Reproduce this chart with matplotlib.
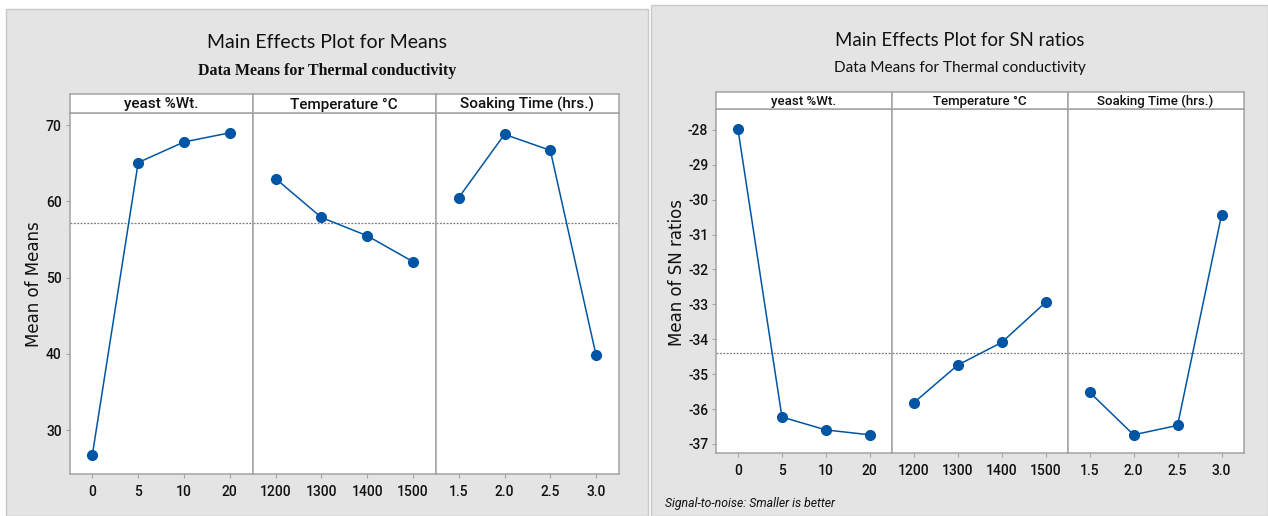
import matplotlib
matplotlib.use("Agg")
import matplotlib.pyplot as plt
from matplotlib.patches import Rectangle

# ---------------- data ----------------
factor_names = ["yeast %Wt.", "Temperature °C", "Soaking Time (hrs.)"]
yeast_levels = ["0", "5", "10", "20"]
temp_levels = ["1200", "1300", "1400", "1500"]
soak_levels = ["1.5", "2.0", "2.5", "3.0"]

means_yeast = [26.8, 65.1, 67.8, 69.0]
means_temp = [63.0, 57.9, 55.5, 52.1]
means_soak = [60.5, 68.8, 66.7, 39.8]
means_grand = 57.2
means_yticks = [30, 40, 50, 60, 70]

sn_yeast = [-27.98, -36.23, -36.60, -36.74]
sn_temp = [-35.82, -34.74, -34.09, -32.94]
sn_soak = [-35.52, -36.74, -36.47, -30.44]
sn_grand = -34.38
sn_yticks = [-37, -36, -35, -34, -33, -32, -31, -30, -29, -28]

W, H = 1268, 516
fig = plt.figure(figsize=(W / 100, H / 100), dpi=100)
fig.patch.set_facecolor("white")

NARROW = ["Roboto", "DejaVu Sans"]
TITLE = ["Lato", "DejaVu Sans"]

BLUE = "#0055a5"
FRAME = "#a3a3a3"
BG = "#e4e4e4"


def fbox(x0, y0, x1, y1):
    return [x0 / W, 1 - y1 / H, (x1 - x0) / W, (y1 - y0) / H]


# gray panels (behind axes)
for (px0, py0, px1) in [(6, 9, 648), (651, 5, 1268)]:
    r = Rectangle((px0 / W, 0), (px1 - px0) / W, (516 - py0) / H, transform=fig.transFigure,
                  facecolor=BG, edgecolor="#c8c8c8", lw=1.0, zorder=-10)
    fig.patches.append(r)


def panel(x0, x1, ytop, ybot, ystrip, ylim, yticks, series_levels, series_vals, grand,
          strip_fs, tick_fs):
    wf = (x1 - x0) / 3
    for i in range(3):
        ax = fig.add_axes(fbox(x0 + i * wf, ytop, x0 + (i + 1) * wf, ybot))
        ax.set_facecolor("white")
        xs = list(range(1, len(series_levels[i]) + 1))
        ax.plot(xs, series_vals[i], color=BLUE, lw=1.1, marker="o", ms=7,
                mfc=BLUE, mec=BLUE, zorder=3)
        ax.axhline(grand, color="#7a7a7a", lw=0.9, ls=(0, (1.5, 1.2)), zorder=2)
        ax.set_xlim(0.5, len(xs) + 0.5)
        ax.set_ylim(*ylim)
        ax.set_xticks(xs)
        ax.set_xticklabels(series_levels[i], fontsize=tick_fs, family=NARROW,
                           weight="medium", color="#111111")
        if i == 0:
            ax.set_yticks(yticks)
            ax.set_yticklabels([str(t) for t in yticks], fontsize=tick_fs, family=NARROW,
                               weight="medium", color="#111111")
        else:
            ax.set_yticks([])
        ax.tick_params(axis="x", length=3, width=0.8, color=FRAME, pad=5)
        ax.tick_params(axis="y", length=3, width=0.8, color=FRAME, pad=2.5)
        for s in ax.spines.values():
            s.set_color(FRAME)
            s.set_linewidth(1.1)
        # strip
        sx = fig.add_axes(fbox(x0 + i * wf, ystrip, x0 + (i + 1) * wf, ytop))
        sx.set_facecolor("white")
        sx.set_xticks([])
        sx.set_yticks([])
        for s in sx.spines.values():
            s.set_color(FRAME)
            s.set_linewidth(1.1)
        sx.text(0.5, 0.45, factor_names[i], ha="center", va="center", fontsize=strip_fs,
                family=NARROW, weight="medium", color="#111111", transform=sx.transAxes)


panel(69.5, 619, 113, 474, 94, (24.25, 71.6), means_yticks,
      [yeast_levels, temp_levels, soak_levels], [means_yeast, means_temp, means_soak],
      means_grand, 11, 10)

panel(716, 1243.5, 108.7, 453.3, 92, (-37.27, -27.39), sn_yticks,
      [yeast_levels, temp_levels, soak_levels], [sn_yeast, sn_temp, sn_soak],
      sn_grand, 9.5, 10)

# titles
fig.text(327 / W, 1 - 43 / H, "Main Effects Plot for Means", ha="center", va="center",
         fontsize=14, family=TITLE, color="#111111")
fig.text(327 / W, 1 - 71 / H, "Data Means for Thermal conductivity", ha="center", va="center",
         fontsize=11.5, family=["Liberation Serif", "DejaVu Serif"], weight="bold", color="#111111")
fig.text(960 / W, 1 - 40 / H, "Main Effects Plot for SN ratios", ha="center", va="center",
         fontsize=13.4, family=TITLE, color="#111111")
fig.text(960 / W, 1 - 67.7 / H, "Data Means for Thermal conductivity", ha="center", va="center",
         fontsize=11.1, family=TITLE, color="#111111")

# y labels
fig.text(34 / W, 1 - 284 / H, "Mean of Means", rotation=90, ha="center", va="center",
         fontsize=12, family=["DejaVu Sans"], color="#111111")
fig.text(677 / W, 1 - 272 / H, "Mean of SN ratios", rotation=90, ha="center", va="center",
         fontsize=12, family=["DejaVu Sans"], color="#111111")

# footnote
fig.text(665 / W, 1 - 503 / H, "Signal-to-noise: Smaller is better", ha="left", va="center",
         fontsize=8.8, family=NARROW, style="italic", color="#111111")

fig.savefig("out.png", dpi=100, facecolor="white")
